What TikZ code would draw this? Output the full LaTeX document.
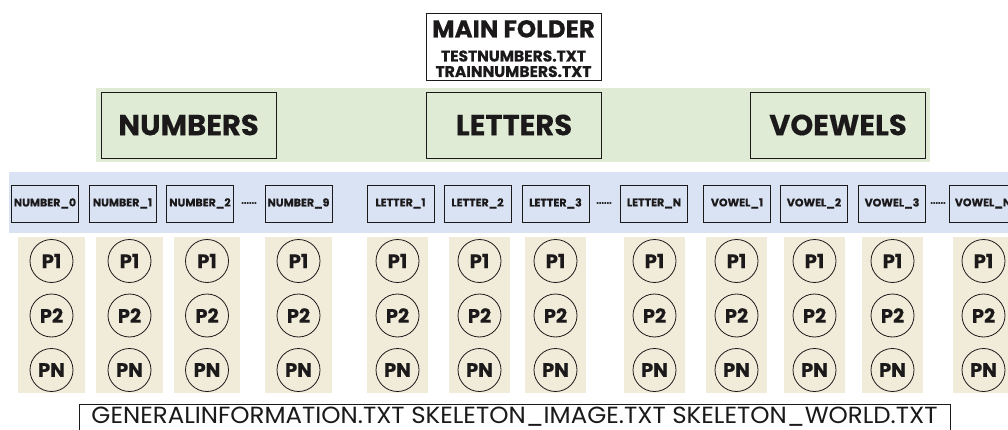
\documentclass[tikz,border=0pt]{standalone}
\usepackage{fontspec}
\setmainfont{Poppins}[BoldFeatures={FakeBold=0.4}]
\usepackage{xcolor}
\usepackage{graphicx}
\usetikzlibrary{positioning}
\definecolor{ink}{HTML}{1B1919}
\definecolor{bandGreen}{HTML}{E0EBD5}
\definecolor{bandBlue}{HTML}{D9E3F3}
\definecolor{colBeige}{HTML}{F1ECD9}
\tikzset{
  group/.style={draw=ink, line width=0.8pt, fill=bandGreen, minimum width=175pt, minimum height=66pt, inner sep=0pt, font=\bfseries\fontsize{29}{29}\selectfont, text=ink},
  cls/.style={draw=ink, line width=0.7pt, fill=bandBlue, minimum width=67pt, minimum height=37pt, inner sep=0pt, font=\bfseries\fontsize{11}{11}\selectfont, text=ink},
  smp/.style={circle, draw=ink, line width=0.8pt, minimum size=43pt, inner sep=0pt, font=\bfseries\fontsize{19.5}{20}\selectfont, text=ink},
  gapdots/.style={font=\bfseries\fontsize{9}{9}\selectfont, text=ink, inner sep=0pt},
  lbl/.style={text=ink, inner sep=0pt, anchor=base},
}

\begin{document}
\begin{tikzpicture}[x=1pt, y=-1pt]
\useasboundingbox (0,0) rectangle (1008,430);
% main folder
\node (mainFolder) [draw=ink, line width=0.8pt, fill=white, minimum width=175pt, minimum height=67pt, inner sep=0pt] at (513.5,46.5) {};
\node (mainTitle) [lbl, font=\bfseries\fontsize{24.5}{25}\selectfont] at (513.5,37.5) {MAIN FOLDER};
\node (testFile) [lbl, font=\bfseries\fontsize{15.5}{16}\selectfont] at (513.5,61.5) {TESTNUMBERS.TXT};
\node (trainFile) [lbl, font=\bfseries\fontsize{15.5}{16}\selectfont] at (513.5,77) {TRAINNUMBERS.TXT};
% bands
\fill[bandGreen] (96,88) rectangle (930,162);
\fill[bandBlue] (9,172) rectangle (1008,233);
\node (numbers) [group] at (188.5,125) {NUMBERS};
\node (letters) [group] at (514,125) {LETTERS};
\node (vowels) [group] at (838,125) {VOEWELS};
% class folders and their sample columns
\foreach \bx/\cx/\w/\name [count=\i] in {
  45/51.5/67/NUMBER\_0, 122.5/129.5/67/NUMBER\_1, 200/207/66/NUMBER\_2, 298.5/298.5/67/NUMBER\_9,
  400.5/397.5/61/LETTER\_1, 477.5/479.5/61/LETTER\_2, 555.5/555.5/61/LETTER\_3, 654/654.5/61/LETTER\_N,
  737/736.5/61/VOWEL\_1, 814/814.5/61/VOWEL\_2, 892/892.5/61/VOWEL\_3, 983/983.5/61/VOWEL\_N} {
  \node (cls\i) [cls] at (\bx,203.5) {\name};
  \fill[colBeige] (\cx-\w/2,237) rectangle (\cx+\w/2,393);
  \node (p1-\i) [smp] at (\cx,261) {P1};
  \node (p2-\i) [smp] at (\cx,315.5) {P2};
  \node (pn-\i) [smp] at (\cx,370) {PN};
}
\node (dotsA) [gapdots] at (249,203) {......};
\node (dotsB) [gapdots] at (604,203) {......};
\node (dotsC) [gapdots] at (938,203) {......};
% skeleton files
\node (info) [draw=ink, line width=0.8pt, fill=white, minimum width=871pt, minimum height=36pt, inner sep=0pt, anchor=north west] at (79,404) {};
\node (infoText) [lbl] at (514.5,423) {\resizebox{846pt}{16.5pt}{GENERALINFORMATION.TXT SKELETON\_IMAGE.TXT SKELETON\_WORLD.TXT}};
\end{tikzpicture}
\end{document}
